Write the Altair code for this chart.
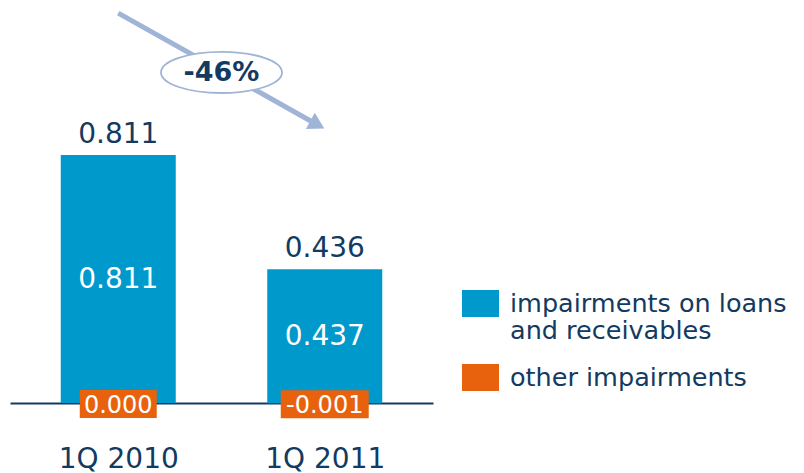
import altair as alt
import pandas as pd

# ---- data ----
quarters = ["1Q 2010", "1Q 2011"]
loans = [0.811, 0.437]
other = [0.000, -0.001]
totals = [0.811, 0.436]
series = ["impairments on loans and receivables", "other impairments"]
change_label = ["-46%"]
# annotation arrow (data space: x = quarter index, y = value)
arrow_x = [0.0, 0.964]
arrow_y = [1.275, 0.910]
badge_x = [0.5]
badge_y = [1.081]

NAVY = "#133A60"
BLUE = "#0099CC"
ORANGE = "#E8620E"
ARROW = "#9FB4D6"
FONT = "DejaVu Sans"

idx = list(range(len(quarters)))

bars_df = pd.DataFrame({
    "i": idx + idx,
    "v": loans + other,
    "series": [series[0]] * len(idx) + [series[1]] * len(idx),
    "order": [0] * len(idx) + [1] * len(idx),
})
lab_df = pd.DataFrame({
    "i": idx, "q": quarters, "loans": loans, "other": other, "total": totals,
    "loans_t": [f"{v:.3f}" for v in loans],
    "other_t": [f"{v:.3f}" for v in other],
    "total_t": [f"{v:.3f}" for v in totals],
})
arrow_df = pd.DataFrame({"i": arrow_x, "v": arrow_y})
head_df = arrow_df.tail(1)
badge_df = pd.DataFrame({"i": badge_x, "v": badge_y, "t": change_label})

xscale = alt.Scale(domain=[-0.5, 1.5], nice=False, zero=False)
yscale = alt.Scale(domain=[0, 1.2917], nice=False, zero=False)
xaxis = alt.Axis(
    values=idx, labelExpr=f"{quarters}[datum.value]", title=None, ticks=False,
    grid=False, domainColor=NAVY, domainWidth=2, labelFont=FONT, labelFontSize=28,
    labelColor=NAVY, labelPadding=42, labelFlush=False,
)
X = alt.X("i:Q", scale=xscale, axis=xaxis)

rect_path = "M-1,-0.73L1,-0.73L1,0.73L-1,0.73Z"
label_expr = (
    f"datum.label == '{series[0]}' ? ['impairments on loans', 'and receivables'] : datum.label"
)

bars = alt.Chart(bars_df).mark_bar(size=115).encode(
    x=X,
    y=alt.Y("v:Q", scale=yscale, axis=None, stack="zero"),
    color=alt.Color(
        "series:N",
        scale=alt.Scale(domain=series, range=[BLUE, ORANGE]),
        legend=alt.Legend(
            title=None, orient="none", legendX=452, legendY=277, direction="vertical",
            symbolType=rect_path, symbolSize=1369, symbolStrokeWidth=0, symbolOpacity=1,
            labelFont=FONT, labelFontSize=25.5, labelColor=NAVY, labelOffset=11,
            rowPadding=14, padding=0, labelLimit=400, labelExpr=label_expr,
        ),
    ),
    order=alt.Order("order:Q"),
)

top_labels = alt.Chart(lab_df).mark_text(
    font=FONT, fontSize=28, color=NAVY, baseline="alphabetic", dy=-12
).encode(x=X, y=alt.Y("loans:Q", scale=yscale, axis=None), text="total_t:N")

inner_labels = alt.Chart(lab_df).transform_calculate(mid="datum.loans / 2").mark_text(
    font=FONT, fontSize=28, color="white", baseline="middle", dy=1
).encode(x=X, y=alt.Y("mid:Q", scale=yscale, axis=None), text="loans_t:N")

box_paths = ["M-1.375,-0.5L1.375,-0.5L1.375,0.5L-1.375,0.5Z", "M-1.571,-0.5L1.571,-0.5L1.571,0.5L-1.571,0.5Z"]
other_boxes = alt.Chart(lab_df).mark_point(
    filled=True, opacity=1, size=3136, strokeWidth=0, yOffset=1, color=ORANGE, clip=False
).encode(
    x=X, y=alt.Y("other:Q", scale=yscale, axis=None),
    shape=alt.Shape("q:N", scale=alt.Scale(domain=quarters, range=box_paths), legend=None),
)
other_labels = alt.Chart(lab_df).mark_text(
    font=FONT, fontSize=24, color="white", baseline="middle", dy=3, clip=False
).encode(x=X, y=alt.Y("other:Q", scale=yscale, axis=None), text="other_t:N")

arrow_line = alt.Chart(arrow_df).mark_line(color=ARROW, strokeWidth=5).encode(
    x=X, y=alt.Y("v:Q", scale=yscale, axis=None)
)
arrow_head = alt.Chart(head_df).mark_point(
    shape="triangle-right", filled=True, opacity=1, size=340, angle=28.7, color=ARROW, strokeWidth=0
).encode(x=X, y=alt.Y("v:Q", scale=yscale, axis=None))

ellipse_path = ("M-1,0C-1,-0.188,-0.552,-0.34,0,-0.34C0.552,-0.34,1,-0.188,1,0"
                "C1,0.188,0.552,0.34,0,0.34C-0.552,0.34,-1,0.188,-1,0Z")
badge = alt.Chart(badge_df).mark_point(
    shape=ellipse_path, filled=False, fill="white", fillOpacity=1, opacity=1, stroke=ARROW,
    strokeWidth=1.8, size=14641
).encode(x=X, y=alt.Y("v:Q", scale=yscale, axis=None))
badge_text = alt.Chart(badge_df).mark_text(
    font=FONT, fontSize=27, fontWeight="bold", color=NAVY, baseline="middle", dy=1
).encode(x=X, y=alt.Y("v:Q", scale=yscale, axis=None), text="t:N")

chart = alt.layer(
    bars, top_labels, inner_labels, other_boxes, other_labels,
    arrow_line, arrow_head, badge, badge_text,
).properties(
    width=423, height=395,
    autosize=alt.AutoSizeParams(type="none"),
    padding={"left": 2, "top": 0, "right": 363, "bottom": 70},
    background="white",
).configure_view(stroke=None)

chart.save("out.html", embed_options={"renderer": "svg", "actions": False})
